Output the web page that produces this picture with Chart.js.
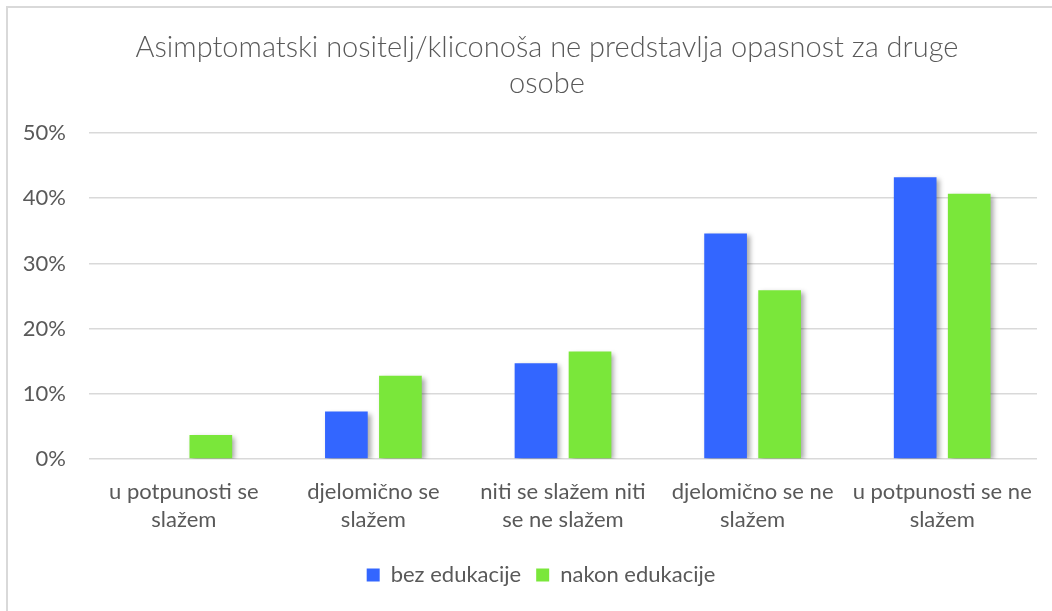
<!DOCTYPE html>
<html>
<head>
<meta charset="utf-8">
<script src="https://cdn.jsdelivr.net/npm/chart.js@4/dist/chart.umd.min.js"></script>
<style>
    body { margin: 0; background: #fff; overflow: hidden; width: 1052px; height: 611px; }
    #frame {
        position: absolute; left: 6px; top: 6px;
        width: 1100px; height: 700px;
        border: 2px solid #d9d9d9;
    }
    #wrap { position: absolute; left: 0; top: 0; width: 1052px; height: 611px; }
</style>
</head>
<body>
<div id="frame"></div>
<div id="wrap"><canvas id="surveyChart"></canvas></div>
<script>
const chartTitle = ['Asimptomatski nositelj/kliconoša ne predstavlja opasnost za druge', 'osobe'];
const categories = [
    ['u potpunosti se', 'slažem'],
    ['djelomično se', 'slažem'],
    ['niti se slažem niti', 'se ne slažem'],
    ['djelomično se ne', 'slažem'],
    ['u potpunosti se ne', 'slažem']
];
const bezEdukacije = [0, 7.3, 14.7, 34.6, 43.2];
const nakonEdukacije = [3.7, 12.8, 16.5, 25.9, 40.7];
const seriesNames = ['bez edukacije', 'nakon edukacije'];
const yTicks = [0, 10, 20, 30, 40, 50];

const textColor = '#595959';
const fontFamily = 'Lato, "Open Sans", sans-serif';

// soft drop shadow under the bars, like the office chart
const barShadow = {
    id: 'barShadow',
    beforeDatasetDraw(chart) {
        const ctx = chart.ctx;
        ctx.save();
        ctx.shadowColor = 'rgba(0, 0, 0, 0.35)';
        ctx.shadowBlur = 5;
        ctx.shadowOffsetX = 3;
        ctx.shadowOffsetY = 2;
    },
    afterDatasetDraw(chart) {
        chart.ctx.restore();
    }
};

// title is centred a little left of the plot, so draw it by hand
const offsetTitle = {
    id: 'offsetTitle',
    afterDraw(chart) {
        const ctx = chart.ctx;
        ctx.save();
        ctx.fillStyle = textColor;
        ctx.font = '300 29px ' + fontFamily;
        ctx.textAlign = 'center';
        ctx.textBaseline = 'middle';
        chartTitle.forEach((line, i) => {
            ctx.fillText(line, 547, 48 + i * 36);
        });
        ctx.restore();
    }
};

document.addEventListener('DOMContentLoaded', function() {
    const ctx = document.getElementById('surveyChart').getContext('2d');
    new Chart(ctx, {
        type: 'bar',
        data: {
            labels: categories,
            datasets: [{
                label: seriesNames[0],
                data: bezEdukacije,
                backgroundColor: '#3366ff',
                barPercentage: 0.79,
                categoryPercentage: 0.57
            }, {
                label: seriesNames[1],
                data: nakonEdukacije,
                backgroundColor: '#7ae73a',
                barPercentage: 0.79,
                categoryPercentage: 0.57
            }]
        },
        options: {
            responsive: true,
            maintainAspectRatio: false,
            animation: false,
            layout: {
                padding: { left: 45, right: 15, top: 133, bottom: 15 }
            },
            plugins: {
                title: { display: false },
                legend: {
                    position: 'bottom',
                    labels: {
                        color: textColor,
                        font: { family: fontFamily, size: 22 },
                        boxWidth: 13,
                        boxHeight: 13,
                        padding: 15
                    }
                },
                tooltip: { enabled: false }
            },
            scales: {
                x: {
                    grid: { display: false },
                    border: { display: false },
                    afterFit: function(scale) {
                        scale.height += 4;
                    },
                    ticks: {
                        color: textColor,
                        font: { family: fontFamily, size: 22, lineHeight: 1.27 },
                        maxRotation: 0,
                        autoSkip: false,
                        padding: 11
                    }
                },
                y: {
                    min: 0,
                    max: 50,
                    afterBuildTicks: function(scale) {
                        scale.ticks = yTicks.map(v => ({ value: v }));
                    },
                    afterFit: function(scale) {
                        scale.width = 44;
                        // labels reach into the left padding, don't clip them to the axis box
                        scale._computeLabelArea = function() { return undefined; };
                    },
                    grid: { color: '#d9d9d9', lineWidth: 1.5, drawTicks: false },
                    border: { display: false },
                    ticks: {
                        color: textColor,
                        font: { family: fontFamily, size: 22 },
                        padding: 23,
                        callback: v => v + '%'
                    }
                }
            }
        },
        plugins: [barShadow, offsetTitle]
    });
});
</script>
</body>
</html>
